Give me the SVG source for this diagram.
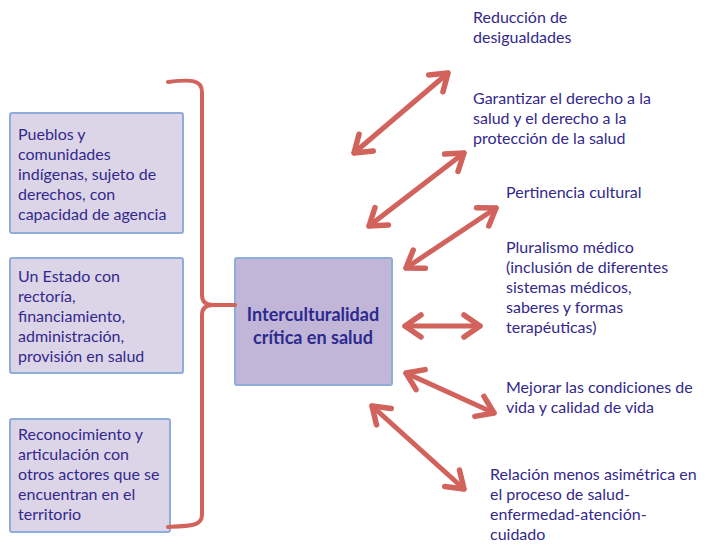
<svg xmlns="http://www.w3.org/2000/svg" width="706" height="557" viewBox="0 0 706 557">
<style>
.box{fill:#dcd5e8;stroke:#8eadd8;stroke-width:2}
.center{fill:#c1b5d8;stroke:#8eadd8;stroke-width:2}
.t{font-family:Lato,"Open Sans","Liberation Sans",sans-serif;font-size:16px;fill:#33298c}
.b{font-weight:bold;font-size:18px;fill:#2c2a8e}
.arr{fill:none;stroke:#d2625c;stroke-width:5;stroke-linecap:round}
</style>
<defs>
<marker id="ah" viewBox="-22 -15 28 30" refX="0" refY="0" markerWidth="28" markerHeight="30" markerUnits="userSpaceOnUse" orient="auto-start-reverse">
<path d="M-16,-11 L0,0 L-16,11" fill="none" stroke="#d2625c" stroke-width="5.5" stroke-linecap="round" stroke-linejoin="round"/>
</marker>
</defs>
<rect width="706" height="557" fill="#ffffff"/>
<g id="node-pueblos">
<rect class="box" x="10" y="113" width="173" height="120" rx="2"/>
<text class="t"><tspan x="18" y="140">Pueblos y</tspan><tspan x="18" y="160">comunidades</tspan><tspan x="18" y="180">indígenas, sujeto de</tspan><tspan x="18" y="200">derechos, con</tspan><tspan x="18" y="220">capacidad de agencia</tspan></text>
</g>
<g id="node-estado">
<rect class="box" x="10" y="258" width="173" height="115" rx="2"/>
<text class="t"><tspan x="18" y="282">Un Estado con</tspan><tspan x="18" y="302">rectoría,</tspan><tspan x="18" y="322">financiamiento,</tspan><tspan x="18" y="342">administración,</tspan><tspan x="18" y="362">provisión en salud</tspan></text>
</g>
<g id="node-reconocimiento">
<rect class="box" x="10" y="419" width="160" height="113" rx="2"/>
<text class="t"><tspan x="18" y="440">Reconocimiento y</tspan><tspan x="18" y="460">articulación con</tspan><tspan x="18" y="480">otros actores que se</tspan><tspan x="18" y="500">encuentran en el</tspan><tspan x="18" y="520">territorio</tspan></text>
</g>
<g id="node-center">
<rect class="center" x="235" y="258" width="157" height="127" rx="2"/>
<text class="t b" text-anchor="middle"><tspan x="313" y="321">Interculturalidad</tspan><tspan x="313" y="344">crítica en salud</tspan></text>
</g>
<g id="node-reduccion">
<text class="t"><tspan x="473" y="23">Reducción de</tspan><tspan x="473" y="43">desigualdades</tspan></text>
</g>
<g id="node-garantizar">
<text class="t"><tspan x="473" y="104">Garantizar el derecho a la</tspan><tspan x="473" y="124">salud y el derecho a la</tspan><tspan x="473" y="144">protección de la salud</tspan></text>
</g>
<g id="node-pertinencia">
<text class="t"><tspan x="506" y="198">Pertinencia cultural</tspan></text>
</g>
<g id="node-pluralismo">
<text class="t"><tspan x="506" y="253">Pluralismo médico</tspan><tspan x="506" y="273">(inclusión de diferentes</tspan><tspan x="506" y="293">sistemas médicos,</tspan><tspan x="506" y="313">saberes y formas</tspan><tspan x="506" y="333">terapéuticas)</tspan></text>
</g>
<g id="node-mejorar">
<text class="t"><tspan x="506" y="393">Mejorar las condiciones de</tspan><tspan x="506" y="413">vida y calidad de vida</tspan></text>
</g>
<g id="node-relacion">
<text class="t"><tspan x="490" y="480">Relación menos asimétrica en</tspan><tspan x="490" y="500">el proceso de salud-</tspan><tspan x="490" y="520">enfermedad-atención-</tspan><tspan x="490" y="540">cuidado</tspan></text>
</g>
<g id="connectors">
<path d="M168,82 C192,79 202,80 202,92 L202,295 Q202,305 213,305 L235,305 M213,305 Q202,305 202,315 L202,515 C202,526 190,526 168,527" fill="none" stroke="#d2625c" stroke-width="4" stroke-linecap="round"/>
<line class="arr" x1="354" y1="153" x2="448" y2="73" marker-start="url(#ah)" marker-end="url(#ah)"/>
<line class="arr" x1="369" y1="226" x2="464" y2="153" marker-start="url(#ah)" marker-end="url(#ah)"/>
<line class="arr" x1="406" y1="268" x2="496" y2="208" marker-start="url(#ah)" marker-end="url(#ah)"/>
<line class="arr" x1="405" y1="326" x2="480" y2="326" marker-start="url(#ah)" marker-end="url(#ah)"/>
<line class="arr" x1="406" y1="373" x2="494" y2="413" marker-start="url(#ah)" marker-end="url(#ah)"/>
<line class="arr" x1="372" y1="406" x2="464" y2="489" marker-start="url(#ah)" marker-end="url(#ah)"/>
</g>
</svg>
